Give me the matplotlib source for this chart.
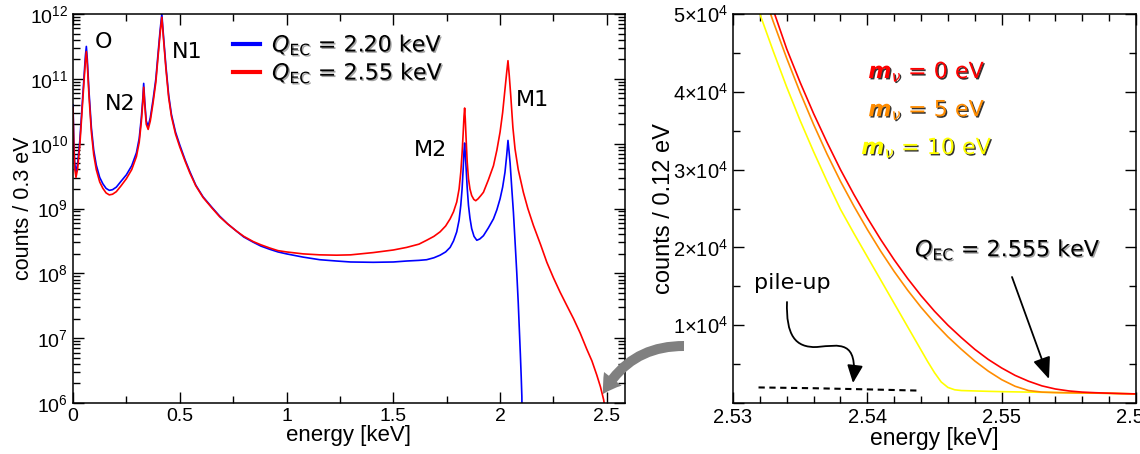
import numpy as np
import matplotlib
matplotlib.use("Agg")
import matplotlib.pyplot as plt
import matplotlib.ticker as mticker
import matplotlib.patheffects as pe
from matplotlib.patches import FancyArrowPatch, ArrowStyle
from matplotlib.path import Path
from matplotlib.transforms import IdentityTransform

plt.rcParams['font.family'] = ['Liberation Sans', 'DejaVu Sans']
plt.rcParams['mathtext.fontset'] = 'custom'
plt.rcParams['mathtext.rm'] = 'Liberation Sans'
plt.rcParams['mathtext.it'] = 'Liberation Sans:italic'
plt.rcParams['mathtext.bf'] = 'Liberation Sans:bold'

# ---- left panel: full spectrum (energy in keV, log10 of counts / 0.3 eV)
blue_E = [0.000, 0.004, 0.008, 0.014, 0.022, 0.032, 0.042, 0.052, 0.058, 0.0625,
          0.067, 0.075, 0.086, 0.097, 0.109, 0.125, 0.140, 0.155, 0.170, 0.185,
          0.203, 0.225, 0.250, 0.275, 0.297, 0.310, 0.320, 0.327, 0.331, 0.336,
          0.343, 0.352, 0.362, 0.375, 0.388, 0.398, 0.408, 0.416, 0.424, 0.435,
          0.448, 0.461, 0.480, 0.500, 0.525, 0.547, 0.575, 0.609, 0.650, 0.6875,
          0.725, 0.766, 0.800, 0.844, 0.880, 0.922, 0.960, 1.000, 1.078, 1.156,
          1.234, 1.300, 1.406, 1.500, 1.5625, 1.620, 1.656, 1.690, 1.719, 1.745,
          1.766, 1.782, 1.797, 1.808, 1.816, 1.822, 1.827, 1.831, 1.834, 1.837,
          1.841, 1.846, 1.852, 1.859, 1.867, 1.878, 1.891, 1.905, 1.922, 1.945,
          1.969, 1.985, 2.000, 2.012, 2.023, 2.031, 2.037, 2.042, 2.047, 2.055,
          2.0625, 2.070, 2.078, 2.085, 2.090, 2.095, 2.099, 2.102, 2.104]
blue_log = [10.60, 10.00, 9.70, 9.56, 9.70, 10.05, 10.55, 11.05, 11.35, 11.50,
            11.30, 10.80, 10.25, 9.90, 9.67, 9.48, 9.38, 9.31, 9.28, 9.29,
            9.33, 9.42, 9.52, 9.66, 9.86, 10.08, 10.40, 10.70, 10.93, 10.65,
            10.35, 10.27, 10.40, 10.68, 11.00, 11.38, 11.75, 12.00, 11.65, 11.20,
            10.75, 10.45, 10.18, 9.98, 9.75, 9.57, 9.36, 9.18, 9.02, 8.88,
            8.76, 8.65, 8.56, 8.48, 8.42, 8.37, 8.33, 8.30, 8.25, 8.21,
            8.19, 8.175, 8.17, 8.175, 8.19, 8.20, 8.21, 8.24, 8.28, 8.33,
            8.40, 8.50, 8.64, 8.82, 9.05, 9.30, 9.60, 9.88, 10.01, 9.85,
            9.62, 9.32, 9.05, 8.85, 8.69, 8.57, 8.51, 8.53, 8.58, 8.70,
            8.84, 8.98, 9.15, 9.33, 9.56, 9.82, 10.05, 9.88, 9.70, 9.30,
            8.94, 8.50, 8.02, 7.55, 7.15, 6.75, 6.40, 6.10, 5.50]

red_E = [0.000, 0.004, 0.008, 0.014, 0.022, 0.032, 0.042, 0.052, 0.058, 0.0625,
         0.067, 0.075, 0.086, 0.097, 0.109, 0.125, 0.140, 0.155, 0.170, 0.185,
         0.203, 0.225, 0.250, 0.275, 0.297, 0.310, 0.320, 0.327, 0.331, 0.336,
         0.343, 0.352, 0.362, 0.375, 0.388, 0.398, 0.408, 0.416, 0.424, 0.435,
         0.448, 0.461, 0.480, 0.500, 0.525, 0.547, 0.575, 0.609, 0.650, 0.6875,
         0.725, 0.766, 0.800, 0.844, 0.880, 0.922, 0.960, 1.000, 1.078, 1.156,
         1.234, 1.300, 1.406, 1.500, 1.5625, 1.620, 1.656, 1.690, 1.719, 1.745,
         1.766, 1.782, 1.797, 1.808, 1.816, 1.822, 1.827, 1.831, 1.834, 1.837,
         1.841, 1.846, 1.852, 1.859, 1.867, 1.877, 1.886, 1.897, 1.910, 1.922,
         1.945, 1.969, 1.985, 2.000, 2.012, 2.023, 2.031, 2.037, 2.043, 2.050,
         2.060, 2.070, 2.085, 2.109, 2.130, 2.156, 2.190, 2.219, 2.250, 2.281,
         2.310, 2.344, 2.375, 2.406, 2.430, 2.453, 2.470, 2.485, 2.497]
red_log = [10.55, 9.95, 9.62, 9.48, 9.62, 9.98, 10.48, 10.98, 11.27, 11.42,
           11.22, 10.73, 10.18, 9.83, 9.60, 9.41, 9.31, 9.24, 9.21, 9.22,
           9.26, 9.35, 9.46, 9.60, 9.80, 10.02, 10.34, 10.64, 10.87, 10.60,
           10.30, 10.22, 10.35, 10.63, 10.95, 11.33, 11.70, 11.95, 11.61, 11.16,
           10.71, 10.42, 10.15, 9.95, 9.73, 9.55, 9.35, 9.17, 9.01, 8.87,
           8.76, 8.65, 8.57, 8.49, 8.44, 8.39, 8.35, 8.33, 8.30, 8.285,
           8.28, 8.285, 8.32, 8.36, 8.40, 8.45, 8.51, 8.57, 8.64, 8.73,
           8.84, 8.95, 9.10, 9.30, 9.56, 9.85, 10.15, 10.42, 10.55, 10.38,
           10.07, 9.72, 9.46, 9.30, 9.20, 9.14, 9.12, 9.15, 9.20, 9.25,
           9.44, 9.66, 9.90, 10.18, 10.48, 10.84, 11.10, 11.28, 11.05, 10.74,
           10.25, 9.92, 9.60, 9.25, 9.00, 8.74, 8.44, 8.17, 7.93, 7.71,
           7.52, 7.30, 7.08, 6.83, 6.65, 6.43, 6.25, 6.05, 5.80]

# ---- right panel: endpoint region (counts / 0.12 eV)
m0_E = [2.5331, 2.534, 2.535, 2.536, 2.537, 2.538, 2.539, 2.540, 2.541, 2.542,
        2.543, 2.544, 2.545, 2.546, 2.547, 2.548, 2.549, 2.550, 2.551, 2.552,
        2.553, 2.554, 2.555, 2.556, 2.557, 2.558, 2.559, 2.560]
m0_counts = [5.0e4, 4.55e4, 4.12e4, 3.72e4, 3.35e4, 3.0e4, 2.68e4, 2.38e4, 2.10e4,
             1.84e4, 1.60e4, 1.38e4, 1.18e4, 1.0e4, 8.4e3, 6.9e3, 5.6e3, 4.5e3,
             3.55e3, 2.8e3, 2.2e3, 1.8e3, 1.55e3, 1.4e3, 1.32e3, 1.26e3, 1.21e3,
             1.17e3]
m5_E = [2.5328, 2.533, 2.534, 2.535, 2.536, 2.537, 2.538, 2.539, 2.540, 2.541,
        2.542, 2.543, 2.544, 2.545, 2.546, 2.547, 2.548, 2.549, 2.550, 2.551,
        2.552, 2.553, 2.554, 2.555, 2.556, 2.557, 2.558, 2.559, 2.560]
m5_counts = [5.0e4, 4.9e4, 4.43e4, 3.99e4, 3.58e4, 3.2e4, 2.85e4, 2.53e4, 2.23e4,
             1.95e4, 1.69e4, 1.45e4, 1.23e4, 1.03e4, 8.5e3, 6.9e3, 5.4e3, 4.1e3,
             3.0e3, 2.15e3, 1.6e3, 1.4e3, 1.34e3, 1.31e3, 1.29e3, 1.27e3, 1.24e3,
             1.2e3, 1.17e3]
m10_E = [2.532, 2.533, 2.534, 2.535, 2.536, 2.537, 2.538, 2.539, 2.540, 2.541,
         2.542, 2.543, 2.544, 2.5445, 2.545, 2.5455, 2.546, 2.5465, 2.547, 2.548,
         2.549, 2.550, 2.552, 2.554, 2.556, 2.558, 2.560]
m10_counts = [5.0e4, 4.52e4, 4.06e4, 3.63e4, 3.23e4, 2.85e4, 2.49e4, 2.18e4, 1.88e4,
              1.58e4, 1.28e4, 9.8e3, 6.8e3, 5.3e3, 3.9e3, 2.7e3, 2.0e3, 1.7e3,
              1.6e3, 1.55e3, 1.5e3, 1.46e3, 1.4e3, 1.35e3, 1.29e3, 1.24e3, 1.17e3]
pileup_E = [2.5319, 2.5360, 2.5400, 2.5437]
pileup_counts = [2.0e3, 1.9e3, 1.75e3, 1.6e3]

W, H = 1140, 454
fig = plt.figure(figsize=(W / 100, H / 100), dpi=100)
ax1 = fig.add_axes([73 / W, 1 - 403 / H, 552 / W, 389 / H])
ax2 = fig.add_axes([733 / W, 1 - 403 / H, 403 / W, 389 / H])

lab_font = dict(family='DejaVu Sans', math_fontfamily='dejavusans')
shadow = [pe.withSimplePatchShadow(offset=(1, -1), shadow_rgbFace='0.4', alpha=0.6)]

# left
ax1.plot(blue_E, 10 ** np.array(blue_log), color='#0000ff', lw=1.2,
         label=r'$Q_{\mathrm{EC}}$ = 2.20 keV')
ax1.plot(red_E, 10 ** np.array(red_log), color='#ff0000', lw=1.2,
         label=r'$Q_{\mathrm{EC}}$ = 2.55 keV')
ax1.set_yscale('log')
ax1.set_xlim(0, 2.585)
ax1.set_ylim(1e6, 1e12)
ax1.xaxis.set_major_locator(mticker.MultipleLocator(0.5))
ax1.xaxis.set_minor_locator(mticker.MultipleLocator(0.25))
ax1.xaxis.set_major_formatter(mticker.FuncFormatter(lambda v, p: '%g' % v))
ax1.yaxis.set_major_locator(mticker.LogLocator(base=10, numticks=10))
ax1.yaxis.set_minor_locator(mticker.LogLocator(base=10, subs=np.arange(2, 10), numticks=10))
ax1.yaxis.set_minor_formatter(mticker.NullFormatter())
ax1.set_xlabel('energy [keV]', fontsize=16, labelpad=0)
ax1.set_ylabel('counts / 0.3 eV', fontsize=15.5, labelpad=-3)

leg = ax1.legend(loc='upper left', bbox_to_anchor=(0.29, 0.95), frameon=False,
                 prop=dict(family='DejaVu Sans', size=16), handlelength=1.2,
                 handletextpad=0.55, labelspacing=0.2, borderpad=0, borderaxespad=0)
for t in leg.get_texts():
    t.set_math_fontfamily('dejavusans')
    t.set_path_effects(shadow)
for l in leg.get_lines():
    l.set_linewidth(3)

for s, x, y in [('O', 104, 42), ('N2', 120, 104), ('N1', 187, 52),
                ('M2', 430, 150), ('M1', 533, 100)]:
    fig.text(x / W, 1 - y / H, s, fontsize=16, ha='center', va='center', **lab_font)

# right
ax2.plot(pileup_E, pileup_counts, color='black', lw=1.5, ls=(0, (3, 2.2)))
ax2.plot(m10_E, m10_counts, color='#ffff00', lw=1.2)
ax2.plot(m5_E, m5_counts, color='#ff8c00', lw=1.2)
ax2.plot(m0_E, m0_counts, color='#ff0000', lw=1.2)
ax2.set_xlim(2.53, 2.56)
ax2.set_ylim(0, 5e4)
ax2.xaxis.set_major_locator(mticker.MultipleLocator(0.01))
ax2.xaxis.set_minor_locator(mticker.MultipleLocator(0.002))
ax2.xaxis.set_major_formatter(mticker.FormatStrFormatter('%.2f'))
ax2.yaxis.set_major_locator(mticker.MultipleLocator(1e4))
ax2.yaxis.set_minor_locator(mticker.MultipleLocator(5e3))
ax2.yaxis.set_major_formatter(mticker.FuncFormatter(
    lambda v, p: r'$\mathdefault{%d{\times}10^{4}}$' % round(v / 1e4) if v > 0 else ''))
ax2.set_xlabel('energy [keV]', fontsize=16.5, labelpad=0)
ax2.set_ylabel('counts / 0.12 eV', fontsize=17, labelpad=-1)

ax1.tick_params(which='both', labelsize=14)
ax2.tick_params(which='both', labelsize=14.5)
for ax in (ax1, ax2):
    ax.tick_params(which='both', direction='in', top=True, right=True, width=1)
    ax.tick_params(which='major', length=8)
    ax.tick_params(which='minor', length=5)
    for sp in ax.spines.values():
        sp.set_linewidth(1.1)

dark_shadow = [pe.withSimplePatchShadow(offset=(1, -1), shadow_rgbFace='k', alpha=0.8)]
for s, c, y in [('0', '#ff0000', 72), ('5', '#ff8c00', 110), ('10', '#ffff00', 148)]:
    fig.text(927 / W, 1 - y / H, r'$\mathbfit{m}_{\nu}$ = %s eV' % s, color=c, fontsize=16,
             ha='center', va='center', path_effects=dark_shadow, **lab_font)

fig.text(1008 / W, 1 - 250 / H, r'$Q_{\mathrm{EC}}$ = 2.555 keV', fontsize=16,
         ha='center', va='center', path_effects=shadow, **lab_font)
fig.text(792 / W, 1 - 283 / H, 'pile-up', fontsize=16, ha='center', va='center', **lab_font)

def px(x, y):
    return (x, H - y)

fig.patches.append(FancyArrowPatch(px(1012, 277), px(1049, 379), transform=IdentityTransform(),
                                   arrowstyle='-|>,head_length=1.1,head_width=0.45',
                                   mutation_scale=12, lw=1.3, color='black',
                                   shrinkA=0, shrinkB=0))

verts = [px(787, 302), px(786, 335), px(795, 348), px(817, 347),
         px(840, 345), px(858, 340), px(853, 383)]
codes = [Path.MOVETO] + [Path.CURVE4] * 6
fig.patches.append(FancyArrowPatch(path=Path(verts, codes), transform=IdentityTransform(),
                                   arrowstyle='-|>,head_length=0.9,head_width=0.4',
                                   mutation_scale=12, lw=1.3, color='black'))

fig.patches.append(FancyArrowPatch(px(684, 346), px(603, 394), transform=IdentityTransform(),
                                   connectionstyle='arc3,rad=0.3',
                                   arrowstyle=ArrowStyle.Simple(head_length=1.3, head_width=1.6,
                                                                tail_width=0.72),
                                   mutation_scale=10, color='#808080', lw=0,
                                   shrinkA=0, shrinkB=0))

fig.savefig('out.png', dpi=100)
